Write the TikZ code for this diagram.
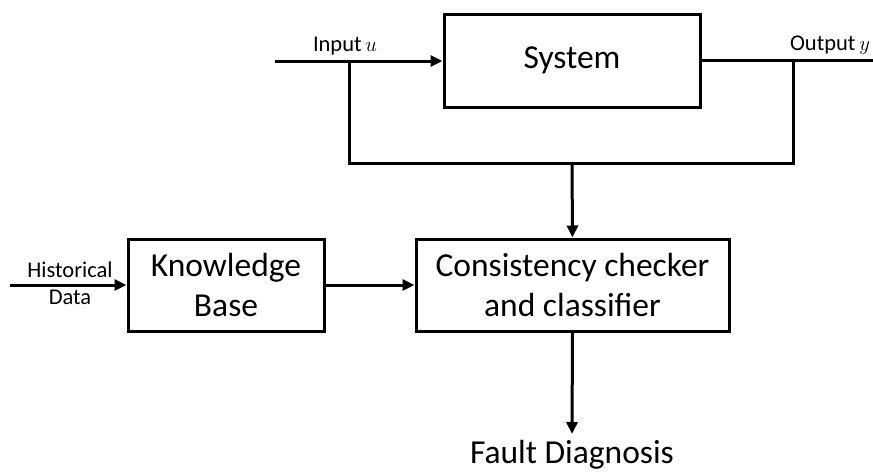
\documentclass[tikz,border=0pt]{standalone}
\usepackage{fontspec}
\setmainfont{Carlito}
\usetikzlibrary{arrows.meta}
\begin{document}
\begin{tikzpicture}[x=1pt,y=-1pt,
  line width=3pt,
  block/.style={draw, line width=3pt, rectangle, align=center, inner sep=0pt,
    font=\fontsize{33.5}{40}\selectfont},
  small/.style={font=\fontsize{22.5}{27}\selectfont, inner sep=0pt, align=center},
  flow/.style={-{Triangle[length=12pt,width=11pt]}},
  wire/.style={line cap=rect}]
  \useasboundingbox (0,0) rectangle (873,474);

  % blocks
  \node[block, minimum width=256pt, minimum height=93pt] (sys) at (572,60.5) {System};
  \node[block, minimum width=196pt, minimum height=92pt] (kb) at (226,285) {Knowledge\\Base};
  \node[block, minimum width=313pt, minimum height=92pt] (cc) at (572.5,285) {Consistency checker\\and classifier};

  % signal points
  \coordinate (uin) at (275,61);
  \coordinate (uj) at (349,61);
  \coordinate (yout) at (873,60);
  \coordinate (yj) at (793,60);
  \coordinate (fbl) at (349,163);
  \coordinate (fbr) at (793,163);
  \coordinate (fbm) at (572,163);
  \coordinate (hin) at (10,285);
  \coordinate (fd) at (572,434);

  % input and output of the system
  \draw[flow] (uin) -- (sys.west |- uin);
  \draw (sys.east |- yout) -- (yout);
  \node[small, anchor=base] (ulab) at (345,51) {Input\,$u$};
  \node[small, anchor=base] (ylab) at (830,50) {Output\,$y$};

  % measured signals fed to the checker
  \draw[wire] (uj) -- (fbl) -- (fbr) -- (yj);
  \draw[flow] (fbm) -- (cc.north);

  % knowledge path
  \draw[flow] (hin) -- (kb.west);
  \node[small, anchor=base] (hlab1) at (70,277) {Historical};
  \node[small, anchor=base] (hlab2) at (70,304) {Data};
  \draw[flow] (kb.east) -- (cc.west);

  % result
  \draw[flow] (cc.south) -- (fd);
  \node[anchor=base, inner sep=0pt, font=\fontsize{33.5}{40}\selectfont] (fdlab) at (572,463) {Fault Diagnosis};
\end{tikzpicture}
\end{document}
